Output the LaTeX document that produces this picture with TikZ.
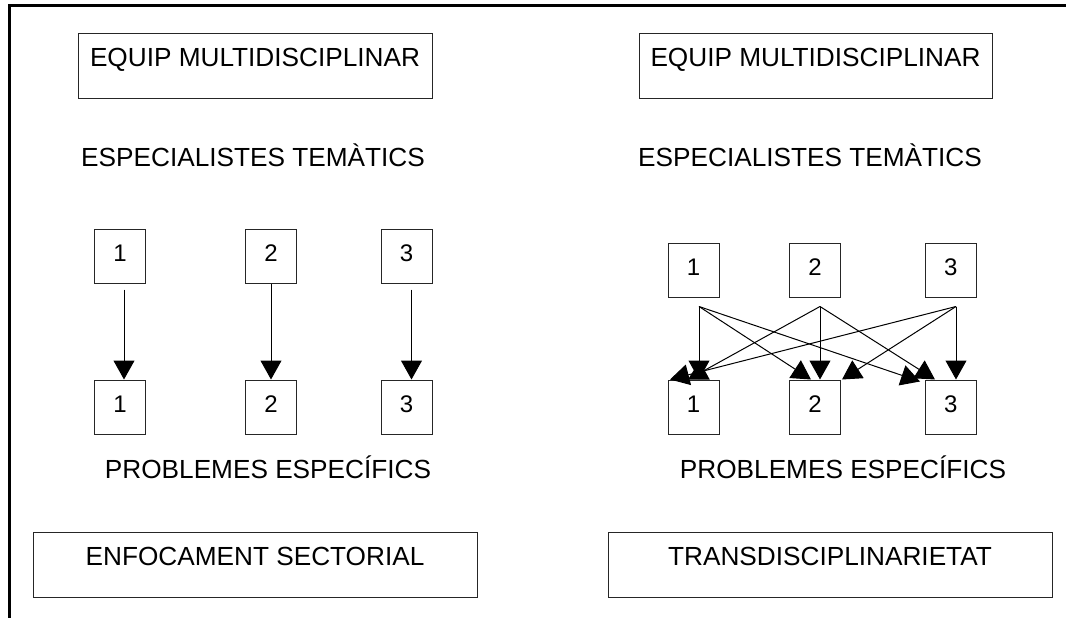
\documentclass[tikz,border=0pt]{standalone}
\usepackage{fontspec}
\setmainfont{Liberation Sans}
\usetikzlibrary{arrows.meta,positioning}

\tikzstyle{frame}=[line width=3pt,black]
\tikzstyle{bigbox}=[rectangle,draw=black!85,line width=1pt,inner sep=0pt,
  			  text height=33pt,text depth=32pt,
  			  font=\fontsize{26.2}{30}\selectfont]
\tikzstyle{heading}=[anchor=base,inner sep=0pt,font=\fontsize{26.2}{30}\selectfont]
\tikzstyle{numbox}=[rectangle,draw=black!85,line width=1pt,inner sep=0pt,
  			  minimum width=51pt,text height=32pt,text depth=22pt,
  			  font=\fontsize{24}{28}\selectfont]
\tikzstyle{arrow}=[-{Triangle[length=19pt,width=21pt]},line width=1pt,black]

\begin{document}
\begin{tikzpicture}[x=1pt,y=-1pt]
	\useasboundingbox (0,0) rectangle (1066,618);
	\draw[frame] (1066,6) -| (9,618);

	% enfocament sectorial
	\node[bigbox,minimum width=354pt] (team1) at (255,65.8) {EQUIP MULTIDISCIPLINAR};
	\node[heading] (spec1) at (253,166.5) {ESPECIALISTES TEMÀTICS};

	\node[numbox] (l1) at (120,256) {1};
	\node[numbox] (l2) at (271,256) {2};
	\node[numbox] (l3) at (406.5,256) {3};
	\node[numbox] (m1) [below of=l1,node distance=151pt] {1};
	\node[numbox] (m2) [below of=l2,node distance=151pt] {2};
	\node[numbox] (m3) [below of=l3,node distance=151pt] {3};

	\draw[arrow] ([xshift=4pt,yshift=-6pt]l1.south) -- ([xshift=4pt]m1.north);
	\draw[arrow] (l2) -- (m2);
	\draw[arrow] ([xshift=5pt,yshift=-6pt]l3.south) -- ([xshift=5pt]m3.north);

	\node[heading] (prob1) at (268,478.5) {PROBLEMES ESPECÍFICS};
	\node[bigbox,minimum width=444pt] (sect) at (255,565) {ENFOCAMENT SECTORIAL};

	% transdisciplinarietat
	\node[bigbox,minimum width=353pt] (team2) at (815.5,65.8) {EQUIP MULTIDISCIPLINAR};
	\node[heading] (spec2) at (810,166.5) {ESPECIALISTES TEMÀTICS};

	\node[numbox] (u1) at (693.5,270) {1};
	\node[numbox] (u2) at (815,270) {2};
	\node[numbox] (u3) at (950.7,270) {3};
	\node[numbox] (v1) [below of=u1,node distance=137pt] {1};
	\node[numbox] (v2) [below of=u2,node distance=137pt] {2};
	\node[numbox] (v3) [below of=u3,node distance=137pt] {3};

	\coordinate (s1) at ([xshift=5.5pt,yshift=-9pt]u1.south);
	\coordinate (s2) at ([xshift=5pt,yshift=-9pt]u2.south);
	\coordinate (s3) at ([xshift=5.3pt,yshift=-9pt]u3.south);

	\draw[arrow] (s1) -- ([xshift=5.5pt]v1.north);
	\draw[arrow] (s1) -- ([xshift=-4pt]v2.north);
	\draw[arrow] (s1) -- ([xshift=-30.7pt,yshift=-2pt]v3.north);
	\draw[arrow] (s2) -- ([xshift=-5.5pt]v1.north);
	\draw[arrow] (s2) -- ([xshift=5pt]v2.north);
	\draw[arrow] (s2) -- ([xshift=-15.7pt]v3.north);
	\draw[arrow] (s3) -- ([xshift=-23.5pt]v1.north);
	\draw[arrow] (s3) -- ([xshift=27pt]v2.north);
	\draw[arrow] (s3) -- ([xshift=5.3pt]v3.north);

	\node[heading] (prob2) at (843,478.5) {PROBLEMES ESPECÍFICS};
	\node[bigbox,minimum width=444pt] (trans) at (830,565) {TRANSDISCIPLINARIETAT};

\end{tikzpicture}
\end{document}
